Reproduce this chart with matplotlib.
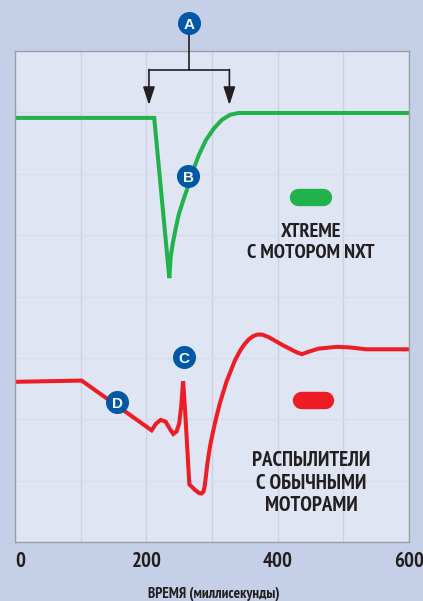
import matplotlib
matplotlib.use('Agg')
import matplotlib.pyplot as plt

# time in ms, level in grid divisions (no scale printed on the y axis)
green_t = [0, 212, 235, 237.1, 240.2, 244.2, 249.2, 255.4, 262.4, 270.5, 279.7, 290.8, 303, 315.2, 327.4, 340, 600]
green_y = [6.91, 6.91, 4.30, 4.65, 4.86, 5.08, 5.33, 5.54, 5.76, 6.03, 6.30, 6.55, 6.74, 6.88, 6.96, 6.99, 6.99]

red_t = [0, 101.5, 208, 215, 222, 229.5, 236, 241, 246, 250, 253, 256, 259, 265.5, 274, 280, 284, 287, 289, 293, 297, 302,
         307, 312, 322, 335, 343, 350, 356, 362, 369, 376, 386, 409, 429, 437, 447, 462, 490, 510, 535, 600]
red_y = [2.61, 2.63, 1.82, 1.93, 1.99, 1.96, 1.84, 1.76, 1.80, 1.93, 2.20, 2.62, 2.15, 0.94, 0.85, 0.80, 0.79, 0.82, 0.92, 1.28, 1.56, 1.82,
         2.05, 2.26, 2.61, 2.96, 3.12, 3.23, 3.30, 3.35, 3.38, 3.38, 3.34, 3.20, 3.09, 3.06, 3.10, 3.15, 3.18, 3.17, 3.14, 3.14]

tick_pos = [0, 200, 400, 600]
tick_labels = ['0', '200', '400', '600']

badge_names = ['A', 'B', 'C', 'D']
badge_t = [265, 263.5, 257, 156]
badge_y = [8.45, 5.96, 3.01, 2.28]

GREEN = '#22B24C'
RED = '#EE1C25'
BLUE = '#0058A6'
DARK = '#231F20'
FONT = ['PT Sans Narrow', 'Roboto', 'DejaVu Sans']

plt.rcParams['font.family'] = FONT

fig = plt.figure(figsize=(4.23, 6.01), dpi=100, facecolor='#C5D0E8')
ax = fig.add_axes([15 / 423, 1 - 542 / 601, 394 / 423, 491 / 601], facecolor='#DFE5F3')
ax.set_xlim(0, 600)
ax.set_ylim(0, 8)

ax.set_xticks(range(0, 601, 100), minor=True)
ax.set_yticks(range(0, 9))
ax.set_yticklabels([])
ax.set_xticks(tick_pos)
ax.set_xticklabels(tick_labels, fontsize=15, fontweight='bold', color=DARK)
ax.tick_params(which='both', length=0)
ax.tick_params(axis='x', pad=7)
ax.get_xticklabels()[0].set_ha('left')
ax.grid(True, axis='x', which='both', color='#CDD2E2', lw=1)
ax.grid(True, axis='y', color='#D7DCEB', lw=1)
ax.set_axisbelow(True)
for s in ax.spines.values():
    s.set_color('#9C9FA6')
    s.set_linewidth(1)

ax.plot(green_t, green_y, color=GREEN, lw=2.9, solid_joinstyle='miter', solid_capstyle='butt')
ax.plot(red_t, red_y, color=RED, lw=2.9, solid_joinstyle='miter', solid_capstyle='butt')

# legend pills
ax.plot([431, 469], [5.62, 5.62], color=GREEN, lw=12.5, solid_capstyle='round')
ax.plot([435, 472], [2.32, 2.32], color=RED, lw=12.5, solid_capstyle='round')

# bracket with two arrows
ax.plot([265, 265], [8.3, 7.69], color=DARK, lw=1.2, clip_on=False, zorder=4)
ax.plot([204, 326.5], [7.69, 7.69], color=DARK, lw=1.2, zorder=4)
for t in [204, 326.5]:
    ax.annotate('', xy=(t, 7.12), xytext=(t, 7.70),
                arrowprops=dict(arrowstyle='-|>,head_length=1.1,head_width=0.36', color=DARK, lw=1.2,
                                shrinkA=0, shrinkB=0), zorder=4)

for name, t, y in zip(badge_names, badge_t, badge_y):
    ax.scatter([t], [y], s=275, color=BLUE, zorder=5, clip_on=False, linewidths=0)
    ax.text(t, y, name, color='white', fontsize=11, fontweight='bold', family='Liberation Sans',
            ha='center', va='center_baseline', zorder=6)

ax.text(451, 4.88, 'XTREME\nС МОТОРОМ NXT', fontsize=14.6, fontweight='bold', color=DARK,
        ha='center', va='center', linespacing=1.15)
ax.text(451, 0.96, 'РАСПЫЛИТЕЛИ\nС ОБЫЧНЫМИ\nМОТОРАМИ', fontsize=15, fontweight='bold', color=DARK,
        ha='center', va='center', linespacing=1.25)

fig.text(214 / 423, 1 - 594 / 601, 'ВРЕМЯ (миллисекунды)', fontsize=10.9, fontweight='bold', color=DARK,
         ha='center', va='center')

fig.savefig('out.png', dpi=100, facecolor=fig.get_facecolor())
